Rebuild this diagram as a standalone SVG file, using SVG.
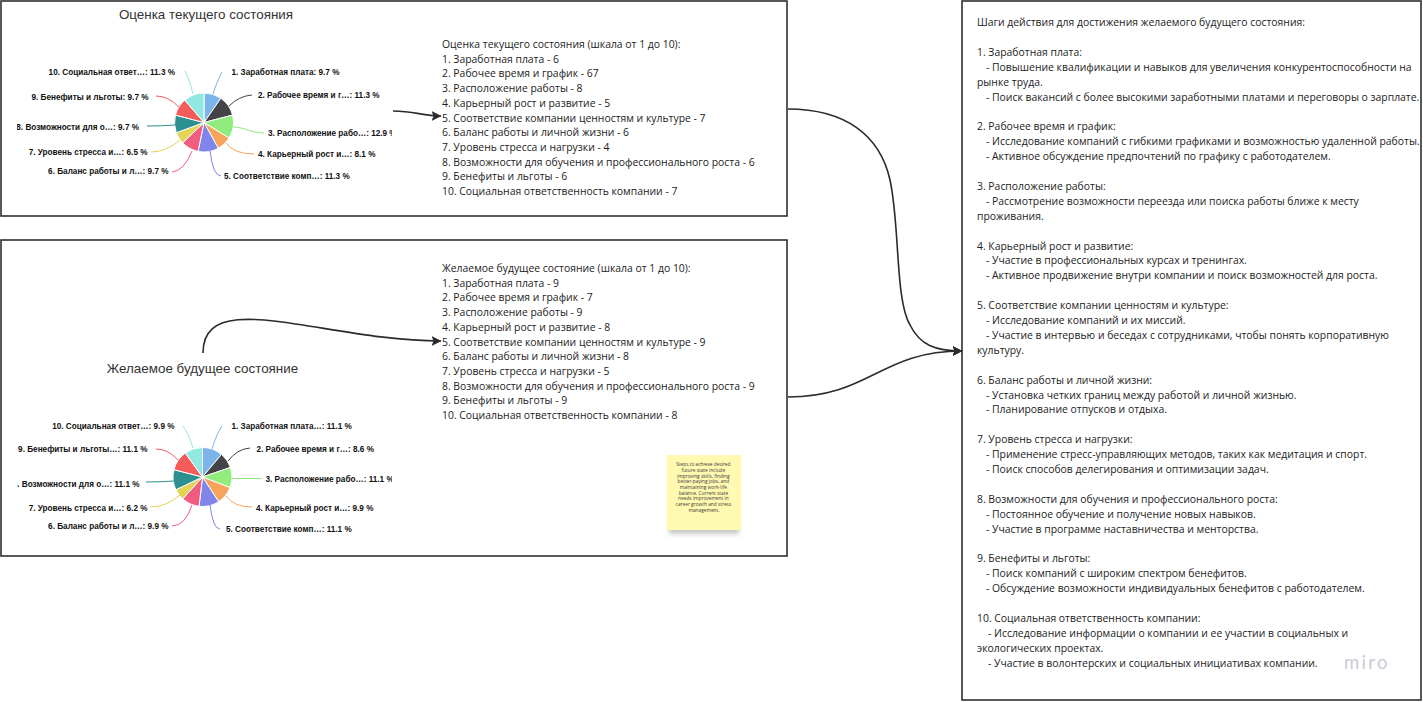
<svg xmlns="http://www.w3.org/2000/svg" width="1423" height="702" viewBox="0 0 1423 702">
  <style>
    .frame { fill: #ffffff; stroke: #2f2f2f; stroke-width: 1.6; }
    .title { font-family: "Liberation Sans", Arial, sans-serif; font-size: 13.4px; fill: #333333; text-anchor: middle; dominant-baseline: central; }
    .list { font-family: "Open Sans", "Liberation Sans", sans-serif; font-size: 10.4px; fill: #222222; dominant-baseline: central; }
    .lbl { font-family: "Liberation Sans", Arial, sans-serif; font-size: 8.2px; font-weight: bold; fill: #111111; dominant-baseline: central; }
    .lbl.l { text-anchor: end; }
    .slice { stroke: #ffffff; stroke-width: 1; stroke-linejoin: round; }
    .conn { fill: none; stroke-width: 1; }
    .edge { fill: none; stroke: #2b2b2b; stroke-width: 1.6; }
    .sticky-text { font-family: "Open Sans", "Liberation Sans", sans-serif; font-size: 4.8px; fill: #3a3a3a; text-anchor: middle; dominant-baseline: central; }
    .c1 { fill: #7cb5ec; stroke: #7cb5ec; }
    .c2 { fill: #434348; stroke: #434348; }
    .c3 { fill: #90ed7d; stroke: #90ed7d; }
    .c4 { fill: #f7a35c; stroke: #f7a35c; }
    .c5 { fill: #8085e9; stroke: #8085e9; }
    .c6 { fill: #f15c80; stroke: #f15c80; }
    .c7 { fill: #e4d354; stroke: #e4d354; }
    .c8 { fill: #2b908f; stroke: #2b908f; }
    .c9 { fill: #f45b5b; stroke: #f45b5b; }
    .c10 { fill: #91e8e1; stroke: #91e8e1; }
    path.slice { stroke: #ffffff; }
    path.conn { fill: none; }
  </style>
  <defs>
    <marker id="arrow" viewBox="0 0 10 10" refX="9.5" refY="5" markerWidth="10" markerHeight="10" markerUnits="userSpaceOnUse" orient="auto">
      <path d="M0,0 L10,5 L0,10 L2,5 Z" fill="#2b2b2b"/>
    </marker>
    <clipPath id="chartClipTop"><rect x="17" y="50" width="375" height="150"/></clipPath>
    <clipPath id="chartClipBottom"><rect x="17" y="400" width="375" height="150"/></clipPath>
    <filter id="stickyShadow" x="-30%" y="-30%" width="160%" height="160%">
      <feGaussianBlur stdDeviation="2.5"/>
    </filter>
  </defs>

  <rect width="1423" height="702" fill="#ffffff"/>

  <!-- Current state frame -->
  <g id="current-state">
    <rect class="frame" x="1" y="1" width="786" height="215"/>
    <text class="title" x="206" y="14">Оценка текущего состояния</text>
    <g id="current-pie" clip-path="url(#chartClipTop)">
      <path class="slice c1" d="M204,122.5 L204,93 A29.5,29.5 0 0 1 220.85,98.29 Z"/>
      <path class="slice c2" d="M204,122.5 L220.85,98.29 A29.5,29.5 0 0 1 232.56,115.10 Z"/>
      <path class="slice c3" d="M204,122.5 L232.56,115.10 A29.5,29.5 0 0 1 229.03,138.11 Z"/>
      <path class="slice c4" d="M204,122.5 L229.03,138.11 A29.5,29.5 0 0 1 218.32,148.29 Z"/>
      <path class="slice c5" d="M204,122.5 L218.32,148.29 A29.5,29.5 0 0 1 198.06,151.40 Z"/>
      <path class="slice c6" d="M204,122.5 L198.06,151.40 A29.5,29.5 0 0 1 182.63,142.84 Z"/>
      <path class="slice c7" d="M204,122.5 L182.63,142.84 A29.5,29.5 0 0 1 176.33,132.75 Z"/>
      <path class="slice c8" d="M204,122.5 L176.33,132.75 A29.5,29.5 0 0 1 175.44,115.10 Z"/>
      <path class="slice c9" d="M204,122.5 L175.44,115.10 A29.5,29.5 0 0 1 184.78,100.12 Z"/>
      <path class="slice c10" d="M204,122.5 L184.78,100.12 A29.5,29.5 0 0 1 204,93 Z"/>

      <path class="conn c1" style="fill:none" d="M213,94 Q218,79 222,72"/>
      <path class="conn c2" style="fill:none" d="M229,106 Q239,96 252,95"/>
      <path class="conn c3" style="fill:none" d="M233,127 C245,127 250,133 264,133"/>
      <path class="conn c4" style="fill:none" d="M226,143 Q234,154 254,154"/>
      <path class="conn c5" style="fill:none" d="M210,151 Q213,176 221,176"/>
      <path class="conn c6" style="fill:none" d="M192,151 Q184,171 172,172"/>
      <path class="conn c7" style="fill:none" d="M180,140 Q166,152 151,152"/>
      <path class="conn c8" style="fill:none" d="M175,125 Q160,126 147,126"/>
      <path class="conn c9" style="fill:none" d="M179,107 Q168,96 156,96"/>
      <path class="conn c10" style="fill:none" d="M193,94 Q189,78 185,71"/>

      <text class="lbl" x="231.5" y="72">1. Заработная плата: 9.7 %</text>
      <text class="lbl" x="258" y="95">2. Рабочее время и г…: 11.3 %</text>
      <text class="lbl" x="268" y="133">3. Расположение рабо…: 12.9 %</text>
      <text class="lbl" x="258" y="154">4. Карьерный рост и…: 8.1 %</text>
      <text class="lbl" x="224" y="176">5. Соответствие комп…: 11.3 %</text>
      <text class="lbl l" x="168.5" y="171.5">6. Баланс работы и л…: 9.7 %</text>
      <text class="lbl l" x="147.5" y="152.5">7. Уровень стресса и…: 6.5 %</text>
      <text class="lbl l" x="139" y="127.5">8. Возможности для о…: 9.7 %</text>
      <text class="lbl l" x="148.5" y="97.5">9. Бенефиты и льготы: 9.7 %</text>
      <text class="lbl l" x="175" y="72.5">10. Социальная ответ…: 11.3 %</text>
    </g>
    <text class="list" x="442">
      <tspan x="442" y="44">Оценка текущего состояния (шкала от 1 до 10):</tspan>
      <tspan x="442" y="58.7">1. Заработная плата - 6</tspan>
      <tspan x="442" y="73.4">2. Рабочее время и график - 67</tspan>
      <tspan x="442" y="88.1">3. Расположение работы - 8</tspan>
      <tspan x="442" y="102.8">4. Карьерный рост и развитие - 5</tspan>
      <tspan x="442" y="117.5">5. Соответствие компании ценностям и культуре - 7</tspan>
      <tspan x="442" y="132.2">6. Баланс работы и личной жизни - 6</tspan>
      <tspan x="442" y="146.9">7. Уровень стресса и нагрузки - 4</tspan>
      <tspan x="442" y="161.6">8. Возможности для обучения и профессионального роста - 6</tspan>
      <tspan x="442" y="176.3">9. Бенефиты и льготы - 6</tspan>
      <tspan x="442" y="191">10. Социальная ответственность компании - 7</tspan>
    </text>
  </g>

  <!-- Desired future state frame -->
  <g id="desired-state">
    <rect class="frame" x="1" y="240" width="786" height="316"/>
    <text class="title" x="202.5" y="368">Желаемое будущее состояние</text>
    <g id="desired-pie" clip-path="url(#chartClipBottom)">
      <path class="slice c1" d="M202.5,477 L202.5,447.5 A29.5,29.5 0 0 1 221.46,454.40 Z"/>
      <path class="slice c2" d="M202.5,477 L221.46,454.40 A29.5,29.5 0 0 1 230.41,467.45 Z"/>
      <path class="slice c3" d="M202.5,477 L230.41,467.45 A29.5,29.5 0 0 1 230.02,487.62 Z"/>
      <path class="slice c4" d="M202.5,477 L230.02,487.62 A29.5,29.5 0 0 1 218.71,501.65 Z"/>
      <path class="slice c5" d="M202.5,477 L218.71,501.65 A29.5,29.5 0 0 1 199.07,506.30 Z"/>
      <path class="slice c6" d="M202.5,477 L199.07,506.30 A29.5,29.5 0 0 1 182.67,498.84 Z"/>
      <path class="slice c7" d="M202.5,477 L182.67,498.84 A29.5,29.5 0 0 1 175.89,489.73 Z"/>
      <path class="slice c8" d="M202.5,477 L175.89,489.73 A29.5,29.5 0 0 1 173.93,469.65 Z"/>
      <path class="slice c9" d="M202.5,477 L173.93,469.65 A29.5,29.5 0 0 1 185.35,453.00 Z"/>
      <path class="slice c10" d="M202.5,477 L185.35,453.00 A29.5,29.5 0 0 1 202.5,447.5 Z"/>

      <path class="conn c1" style="fill:none" d="M212,449 Q217,433 222,426"/>
      <path class="conn c2" style="fill:none" d="M228,461 Q237,449 250,448"/>
      <path class="conn c3" style="fill:none" d="M232,478.5 L262,478.5"/>
      <path class="conn c4" style="fill:none" d="M226,496 Q234,507 252,507"/>
      <path class="conn c5" style="fill:none" d="M210,505 Q213,529 220,529"/>
      <path class="conn c6" style="fill:none" d="M192,505 Q185,526 172,526"/>
      <path class="conn c7" style="fill:none" d="M180,495 Q166,507 150,507"/>
      <path class="conn c8" style="fill:none" d="M174,481 Q160,482 146,482"/>
      <path class="conn c9" style="fill:none" d="M178,460 Q168,449 156,449"/>
      <path class="conn c10" style="fill:none" d="M193,448 Q188,432 183,426"/>

      <text class="lbl" x="231.5" y="426">1. Заработная плата…: 11.1 %</text>
      <text class="lbl" x="256.5" y="449.5">2. Рабочее время и г…: 8.6 %</text>
      <text class="lbl" x="265.5" y="479">3. Расположение рабо…: 11.1 %</text>
      <text class="lbl" x="256" y="508">4. Карьерный рост и…: 9.9 %</text>
      <text class="lbl" x="226" y="529">5. Соответствие комп…: 11.1 %</text>
      <text class="lbl l" x="168.5" y="526.5">6. Баланс работы и л…: 9.9 %</text>
      <text class="lbl l" x="147.5" y="508">7. Уровень стресса и…: 6.2 %</text>
      <text class="lbl l" x="139.5" y="484">8. Возможности для о…: 11.1 %</text>
      <text class="lbl l" x="147.5" y="449">9. Бенефиты и льготы…: 11.1 %</text>
      <text class="lbl l" x="174.5" y="426">10. Социальная ответ…: 9.9 %</text>
    </g>
    <text class="list" x="442">
      <tspan x="442" y="268">Желаемое будущее состояние (шкала от 1 до 10):</tspan>
      <tspan x="442" y="282.7">1. Заработная плата - 9</tspan>
      <tspan x="442" y="297.4">2. Рабочее время и график - 7</tspan>
      <tspan x="442" y="312.1">3. Расположение работы - 9</tspan>
      <tspan x="442" y="326.8">4. Карьерный рост и развитие - 8</tspan>
      <tspan x="442" y="341.5">5. Соответствие компании ценностям и культуре - 9</tspan>
      <tspan x="442" y="356.2">6. Баланс работы и личной жизни - 8</tspan>
      <tspan x="442" y="370.9">7. Уровень стресса и нагрузки - 5</tspan>
      <tspan x="442" y="385.6">8. Возможности для обучения и профессионального роста - 9</tspan>
      <tspan x="442" y="400.3">9. Бенефиты и льготы - 9</tspan>
      <tspan x="442" y="415">10. Социальная ответственность компании - 8</tspan>
    </text>
  </g>

  <!-- Sticky note -->
  <g id="sticky-note">
    <rect x="669" y="522" width="70" height="12" fill="#000000" opacity="0.22" filter="url(#stickyShadow)"/>
    <rect x="666.5" y="455" width="75" height="75" fill="#fff9b1"/>
    <text class="sticky-text">
      <tspan x="704" y="464.3">Steps to achieve desired</tspan>
      <tspan x="704" y="470">future state include</tspan>
      <tspan x="704" y="475.7">improving skills, finding</tspan>
      <tspan x="704" y="481.3">better-paying jobs, and</tspan>
      <tspan x="704" y="487">maintaining work-life</tspan>
      <tspan x="704" y="492.7">balance. Current state</tspan>
      <tspan x="704" y="498.3">needs improvement in</tspan>
      <tspan x="704" y="504">career growth and stress</tspan>
      <tspan x="704" y="509.6">management.</tspan>
    </text>
  </g>

  <!-- Action steps frame -->
  <g id="action-steps">
    <rect class="frame" x="962" y="1" width="459" height="699"/>
    <text class="list">
      <tspan x="977" y="22">Шаги действия для достижения желаемого будущего состояния:</tspan>
      <tspan x="977" y="51.8">1. Заработная плата:</tspan>
      <tspan x="986" y="66.7">- Повышение квалификации и навыков для увеличения конкурентоспособности на</tspan>
      <tspan x="977" y="81.6">рынке труда.</tspan>
      <tspan x="986" y="96.5">- Поиск вакансий с более высокими заработными платами и переговоры о зарплате.</tspan>
      <tspan x="977" y="126.3">2. Рабочее время и график:</tspan>
      <tspan x="986" y="141.2">- Исследование компаний с гибкими графиками и возможностью удаленной работы.</tspan>
      <tspan x="986" y="156.1">- Активное обсуждение предпочтений по графику с работодателем.</tspan>
      <tspan x="977" y="185.9">3. Расположение работы:</tspan>
      <tspan x="986" y="200.8">- Рассмотрение возможности переезда или поиска работы ближе к месту</tspan>
      <tspan x="977" y="215.7">проживания.</tspan>
      <tspan x="977" y="245.5">4. Карьерный рост и развитие:</tspan>
      <tspan x="986" y="260.4">- Участие в профессиональных курсах и тренингах.</tspan>
      <tspan x="986" y="275.3">- Активное продвижение внутри компании и поиск возможностей для роста.</tspan>
      <tspan x="977" y="305.1">5. Соответствие компании ценностям и культуре:</tspan>
      <tspan x="986" y="320">- Исследование компаний и их миссий.</tspan>
      <tspan x="986" y="334.9">- Участие в интервью и беседах с сотрудниками, чтобы понять корпоративную</tspan>
      <tspan x="977" y="349.8">культуру.</tspan>
      <tspan x="977" y="379.6">6. Баланс работы и личной жизни:</tspan>
      <tspan x="986" y="394.5">- Установка четких границ между работой и личной жизнью.</tspan>
      <tspan x="986" y="409.4">- Планирование отпусков и отдыха.</tspan>
      <tspan x="977" y="439.2">7. Уровень стресса и нагрузки:</tspan>
      <tspan x="986" y="454.1">- Применение стресс-управляющих методов, таких как медитация и спорт.</tspan>
      <tspan x="986" y="469">- Поиск способов делегирования и оптимизации задач.</tspan>
      <tspan x="977" y="498.8">8. Возможности для обучения и профессионального роста:</tspan>
      <tspan x="986" y="513.7">- Постоянное обучение и получение новых навыков.</tspan>
      <tspan x="986" y="528.6">- Участие в программе наставничества и менторства.</tspan>
      <tspan x="977" y="558.4">9. Бенефиты и льготы:</tspan>
      <tspan x="986" y="573.3">- Поиск компаний с широким спектром бенефитов.</tspan>
      <tspan x="986" y="588.2">- Обсуждение возможности индивидуальных бенефитов с работодателем.</tspan>
      <tspan x="977" y="618">10. Социальная ответственность компании:</tspan>
      <tspan x="988" y="632.9">- Исследование информации о компании и ее участии в социальных и</tspan>
      <tspan x="977" y="647.8">экологических проектах.</tspan>
      <tspan x="988" y="662.7">- Участие в волонтерских и социальных инициативах компании.</tspan>
    </text>
  </g>

  <!-- Connectors -->
  <g id="connectors">
    <path class="edge" d="M393,111 C415,111 422,116 441,116" marker-end="url(#arrow)"/>
    <path class="edge" d="M203,353 C203,285 325,341 441,341" marker-end="url(#arrow)"/>
    <path class="edge" d="M788,109 C845,109 880,135 890,180 C900,225 895,300 910,325 C920,345 935,351 962,351" marker-end="url(#arrow)"/>
    <path class="edge" d="M788,397 C870,397 880,351 962,351" marker-end="url(#arrow)"/>
  </g>

  <!-- Board watermark -->
  <text x="1344" y="662" font-family="Lato, 'Open Sans', sans-serif" font-size="18.5" letter-spacing="2.3" fill="#c9cad6" dominant-baseline="central">miro</text>
</svg>
